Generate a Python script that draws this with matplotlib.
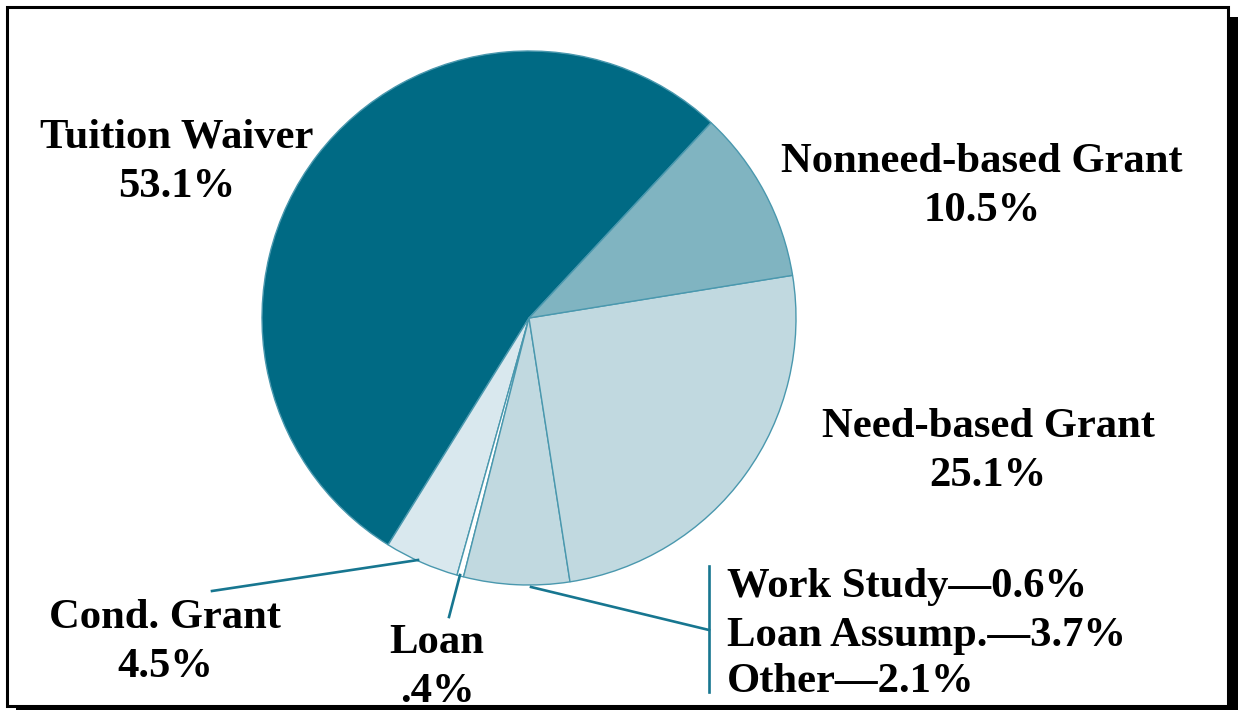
#!/usr/bin/env python

# Libraries

import matplotlib
matplotlib.use("Agg")
import matplotlib.pyplot as plt
from matplotlib.patches import Rectangle

# Data

categories = ["Tuition Waiver", "Cond. Grant", "Loan", "Work Study", "Loan Assump.",
              "Other", "Need-based Grant", "Nonneed-based Grant"]
shares = [53.1, 4.5, 0.4, 0.6, 3.7, 2.1, 25.1, 10.5]
share_labels = ["53.1%", "4.5%", ".4%", "0.6%", "3.7%", "2.1%", "25.1%", "10.5%"]

# work study, loan assump. and other are drawn as a single wedge
grouped = ["Work Study", "Loan Assump.", "Other"]

W, H = 1238, 710

def Y(y):
    # image rows (top down) -> data y (bottom up)
    return H - y

fig = plt.figure(figsize=(W / 100, H / 100), dpi=100)
ax = fig.add_axes([0, 0, 1, 1])

# frame with drop shadow
ax.add_patch(Rectangle((16, Y(712)), W - 16 + 5, 712 - 17, facecolor="black", edgecolor="none", zorder=0))
ax.add_patch(Rectangle((7, Y(706)), 1221, 699, facecolor="white", edgecolor="black", linewidth=2.2, zorder=1))

# build wedges
wedge_vals = []
wedge_cols = []
colors = {"Tuition Waiver": "#006A84", "Cond. Grant": "#D9E8EE", "Loan": "#FFFFFF",
          "group": "#C1D9E0", "Need-based Grant": "#C1D9E0", "Nonneed-based Grant": "#80B4C1"}
group_total = 0.0
for name, v in zip(categories, shares):
    if name in grouped:
        group_total += v
        if name == grouped[-1]:
            wedge_vals.append(group_total)
            wedge_cols.append(colors["group"])
    else:
        wedge_vals.append(v)
        wedge_cols.append(colors[name])

ax.pie(wedge_vals, colors=wedge_cols, startangle=47, counterclock=True,
       center=(529, Y(318)), radius=267,
       wedgeprops=dict(edgecolor="#4A98AE", linewidth=1.0), frame=True)

# leader lines
lc = "#177690"
lw = 1.9
ax.plot([212, 418], [Y(591), Y(560)], color=lc, lw=lw, zorder=3)
ax.plot([449, 460], [Y(617), Y(575)], color=lc, lw=lw, zorder=3)
ax.plot([531, 709], [Y(587), Y(630)], color=lc, lw=lw, zorder=3)
ax.plot([709, 709], [Y(566), Y(692)], color=lc, lw=lw, zorder=3)

# labels
font = dict(family="Liberation Serif", weight="bold", size=30.7, color="black", zorder=4)
lbl = dict(zip(categories, share_labels))
centered = [("Tuition Waiver", 177, 148), ("Nonneed-based Grant", 982, 172),
            ("Need-based Grant", 988, 437), ("Cond. Grant", 165, 628), ("Loan", 437, 653)]
for name, x, base in centered:
    ax.text(x, Y(base), name, ha="center", va="baseline", **font)
    ax.text(x, Y(base + 49), lbl[name], ha="center", va="baseline", **font)

for name, base in zip(grouped, [597, 646, 692]):
    ax.text(727, Y(base), name + "\u2014" + lbl[name], ha="left", va="baseline", **font)

ax.set_xlim(0, W)
ax.set_ylim(0, H)
ax.set_aspect("equal")
ax.axis("off")

plt.savefig("out.png", dpi=100)
